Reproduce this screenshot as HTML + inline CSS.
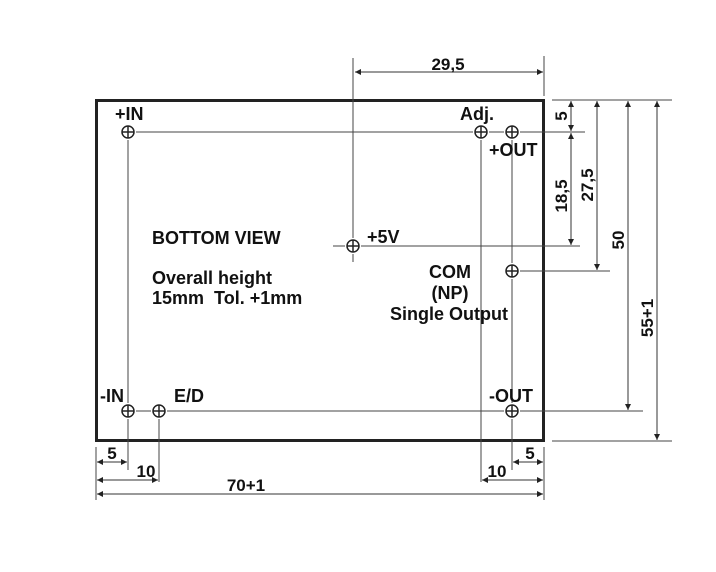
<!DOCTYPE html>
<html><head><style>
html,body{margin:0;padding:0;background:#fff;}
svg{display:block;}
text{font-family:"Liberation Sans",Arial,sans-serif;font-weight:bold;fill:#111;white-space:pre;}
</style></head><body>
<svg width="716" height="572" viewBox="0 0 716 572" xmlns="http://www.w3.org/2000/svg">
<defs>
<marker id="a" viewBox="0 0 10 10" refX="10" refY="5" markerWidth="8" markerHeight="6" orient="auto-start-reverse" markerUnits="userSpaceOnUse"><path d="M0,0 L10,5 L0,10 z" fill="#222"/></marker>
</defs>
<rect x="96.5" y="100.5" width="447" height="340" fill="none" stroke="#222" stroke-width="3"/>
<g stroke="#444" stroke-width="1" fill="none">
<line x1="136" y1="132" x2="473" y2="132"/>
<line x1="489" y1="132" x2="504" y2="132"/>
<line x1="520" y1="132" x2="585" y2="132"/>
<line x1="333" y1="246" x2="345" y2="246"/>
<line x1="361" y1="246" x2="580" y2="246"/>
<line x1="520" y1="271" x2="610" y2="271"/>
<line x1="136" y1="411" x2="151" y2="411"/>
<line x1="167" y1="411" x2="504" y2="411"/>
<line x1="520" y1="411" x2="643" y2="411"/>
<line x1="552" y1="441" x2="672" y2="441"/>
<line x1="552" y1="100" x2="672" y2="100"/>
<line x1="128" y1="140" x2="128" y2="403"/>
<line x1="128" y1="419" x2="128" y2="470"/>
<line x1="159" y1="419" x2="159" y2="482"/>
<line x1="481" y1="140" x2="481" y2="482"/>
<line x1="512" y1="140" x2="512" y2="263"/>
<line x1="512" y1="279" x2="512" y2="403"/>
<line x1="512" y1="419" x2="512" y2="470"/>
<line x1="353" y1="58" x2="353" y2="238"/>
<line x1="353" y1="254" x2="353" y2="262"/>
<line x1="544" y1="56" x2="544" y2="96"/>
<line x1="96" y1="447" x2="96" y2="500"/>
<line x1="544" y1="447" x2="544" y2="500"/>
<g stroke="#222" stroke-width="1.5">
<circle cx="128" cy="132" r="6"/><line x1="122" y1="132" x2="134" y2="132"/><line x1="128" y1="126" x2="128" y2="138"/>
<circle cx="481" cy="132" r="6"/><line x1="475" y1="132" x2="487" y2="132"/><line x1="481" y1="126" x2="481" y2="138"/>
<circle cx="512" cy="132" r="6"/><line x1="506" y1="132" x2="518" y2="132"/><line x1="512" y1="126" x2="512" y2="138"/>
<circle cx="353" cy="246" r="6"/><line x1="347" y1="246" x2="359" y2="246"/><line x1="353" y1="240" x2="353" y2="252"/>
<circle cx="512" cy="271" r="6"/><line x1="506" y1="271" x2="518" y2="271"/><line x1="512" y1="265" x2="512" y2="277"/>
<circle cx="128" cy="411" r="6"/><line x1="122" y1="411" x2="134" y2="411"/><line x1="128" y1="405" x2="128" y2="417"/>
<circle cx="159" cy="411" r="6"/><line x1="153" y1="411" x2="165" y2="411"/><line x1="159" y1="405" x2="159" y2="417"/>
<circle cx="512" cy="411" r="6"/><line x1="506" y1="411" x2="518" y2="411"/><line x1="512" y1="405" x2="512" y2="417"/>
</g>
<g stroke="#333" marker-start="url(#a)" marker-end="url(#a)">
<line x1="355" y1="72" x2="543" y2="72"/>
<line x1="571" y1="101" x2="571" y2="131"/>
<line x1="571" y1="133" x2="571" y2="245"/>
<line x1="597" y1="101" x2="597" y2="270"/>
<line x1="628" y1="101" x2="628" y2="410"/>
<line x1="657" y1="101" x2="657" y2="440"/>
<line x1="97" y1="462" x2="127" y2="462"/>
<line x1="97" y1="480" x2="158" y2="480"/>
<line x1="97" y1="494" x2="543" y2="494"/>
<line x1="482" y1="480" x2="543" y2="480"/>
<line x1="513" y1="462" x2="543" y2="462"/>
</g>
</g>
<g font-size="18">
<text x="115" y="120">+IN</text>
<text x="460" y="120">Adj.</text>
<text x="489" y="156">+OUT</text>
<text x="367" y="243">+5V</text>
<text x="152" y="244">BOTTOM VIEW</text>
<text x="152" y="284">Overall height</text>
<text x="152" y="304">15mm  Tol. +1mm</text>
<text x="450" y="278" text-anchor="middle">COM</text>
<text x="450" y="299" text-anchor="middle">(NP)</text>
<text x="449" y="320" text-anchor="middle">Single Output</text>
<text x="100" y="402">-IN</text>
<text x="174" y="402">E/D</text>
<text x="489" y="402">-OUT</text>
</g>
<g font-size="17">
<text x="448" y="70" text-anchor="middle">29,5</text>
<text x="112" y="459" text-anchor="middle">5</text>
<text x="146" y="477" text-anchor="middle">10</text>
<text x="246" y="491" text-anchor="middle">70+1</text>
<text x="497" y="477" text-anchor="middle">10</text>
<text x="530" y="459" text-anchor="middle">5</text>
<text transform="translate(567,116) rotate(-90)" text-anchor="middle">5</text>
<text transform="translate(567,196) rotate(-90)" text-anchor="middle">18,5</text>
<text transform="translate(593,185) rotate(-90)" text-anchor="middle">27,5</text>
<text transform="translate(624,240) rotate(-90)" text-anchor="middle">50</text>
<text transform="translate(653,318) rotate(-90)" text-anchor="middle">55+1</text>
</g>
</svg>
</body></html>
